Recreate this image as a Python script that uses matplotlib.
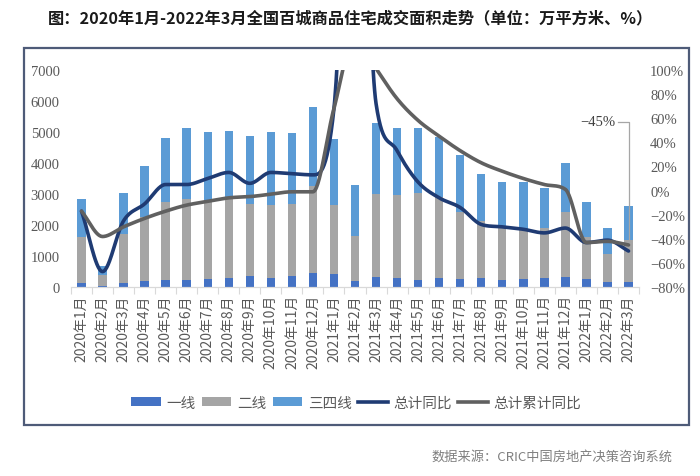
import numpy as np
import matplotlib
matplotlib.use("Agg")
import matplotlib.pyplot as plt
from matplotlib.patches import Rectangle
from matplotlib.lines import Line2D
from matplotlib.ticker import FuncFormatter, FixedLocator

plt.rcParams['font.family'] = ['Noto Sans CJK SC', 'DejaVu Sans']

# -----------------------------
# Data
# -----------------------------
months = ["2020年1月", "2020年2月", "2020年3月", "2020年4月", "2020年5月", "2020年6月",
          "2020年7月", "2020年8月", "2020年9月", "2020年10月", "2020年11月", "2020年12月",
          "2021年1月", "2021年2月", "2021年3月", "2021年4月", "2021年5月", "2021年6月",
          "2021年7月", "2021年8月", "2021年9月", "2021年10月", "2021年11月", "2021年12月",
          "2022年1月", "2022年2月", "2022年3月"]

tier1 = [130, 30, 140, 190, 250, 250, 270, 310, 350, 310, 350, 460, 430, 190,
         340, 290, 250, 310, 270, 290, 250, 270, 290, 330, 270, 160, 180]
tier2 = [1480, 350, 1575, 2060, 2480, 2590, 2530, 2570, 2330, 2340, 2320, 2790, 2220, 1470,
         2660, 2680, 2780, 2580, 2140, 1850, 1730, 1610, 1610, 2100, 1340, 910, 1340]
tier34 = [1230, 320, 1305, 1660, 2060, 2270, 2200, 2140, 2180, 2330, 2290, 2540, 2120, 1630,
          2280, 2150, 2090, 1940, 1840, 1490, 1420, 1520, 1280, 1570, 1120, 840, 1110]

# percent
yoy = [-17, -67, -25, -11, 5, 5, 10, 15, 6, 15, 14, 13, 68, 370,
       72, 33, 7, -6, -14, -28, -30, -32, -35, -31, -43, -41, -50]
cum_yoy = [-17, -38, -30, -23, -17, -12, -9, -6, -5, -3, -1, -1, 68, 128,
           101, 76, 58, 45, 33, 23, 16, 10, 5, 1, -43, -42, -45]

# colours
c_t1 = "#4472C4"
c_t2 = "#A5A5A5"
c_t34 = "#5B9BD5"
c_yoy = "#1F3B73"
c_cum = "#606060"
txt = "#595959"

serif = "Liberation Serif"


def smooth(vals, n=30):
    # cubic hermite through the points (catmull-rom tangents, capped so
    # segments don't overshoot much) - close to excel's smoothed line
    p = np.asarray(vals, dtype=float)
    k = len(p)
    m = np.zeros(k)
    m[0] = p[1] - p[0]
    m[-1] = p[-1] - p[-2]
    m[1:-1] = (p[2:] - p[:-2]) / 2
    for i in range(k - 1):
        d = p[i + 1] - p[i]
        if d == 0:
            m[i] = m[i + 1] = 0
            continue
        if m[i] / d < 0:
            m[i] = 0
        if m[i + 1] / d < 0:
            m[i + 1] = 0
        if m[i] / d > 3:
            m[i] = 3 * d
        if m[i + 1] / d > 3:
            m[i + 1] = 3 * d
    xs, ys = [], []
    t = np.linspace(0, 1, n, endpoint=False)
    h00 = 2 * t**3 - 3 * t**2 + 1
    h10 = t**3 - 2 * t**2 + t
    h01 = -2 * t**3 + 3 * t**2
    h11 = t**3 - t**2
    for i in range(k - 1):
        ys.append(h00 * p[i] + h10 * m[i] + h01 * p[i + 1] + h11 * m[i + 1])
        xs.append(i + t)
    xs.append([k - 1])
    ys.append([p[-1]])
    return np.concatenate(xs), np.concatenate(ys)


# -----------------------------
# Figure
# -----------------------------
fig = plt.figure(figsize=(7, 4.77), dpi=100)
ax = fig.add_axes([0.1014, 0.3956, 0.8115, 0.4562])
ax2 = ax.twinx()

x = np.arange(len(months))
w = 0.4
b1 = ax.bar(x, tier1, w, color=c_t1, zorder=2)
b2 = ax.bar(x, tier2, w, bottom=tier1, color=c_t2, zorder=2)
bottom3 = np.array(tier1) + np.array(tier2)
b3 = ax.bar(x, tier34, w, bottom=bottom3, color=c_t34, zorder=2)

ax.set_xlim(-0.5, len(months) - 0.5)
ax.set_ylim(0, 7000)
ax.set_yticks(range(0, 7001, 1000))

sx, sy = smooth(yoy)
ax2.plot(sx, sy, color=c_yoy, lw=2.6, solid_capstyle='round')
sx, sy = smooth(cum_yoy)
ax2.plot(sx, sy, color=c_cum, lw=2.6, solid_capstyle='round')
ax2.set_ylim(-80, 100)
ax2.set_yticks(range(-80, 101, 20))
ax2.yaxis.set_major_formatter(FuncFormatter(lambda v, p: f"{int(v)}%".replace("-", "\u2212")))

# spines / ticks
for a in (ax, ax2):
    for s in ("left", "right", "top"):
        a.spines[s].set_visible(False)
    a.spines["bottom"].set_color("#D9D9D9")
    a.tick_params(axis="y", length=0, pad=8, labelsize=10.5, labelcolor=txt)
for lab in ax.get_yticklabels() + ax2.get_yticklabels():
    lab.set_fontfamily(serif)

ax.set_xticks(x)
ax.set_xticklabels(months, rotation=90, fontsize=10, color=txt)
ax.tick_params(axis="x", which="major", length=0, pad=5)
ax.xaxis.set_minor_locator(FixedLocator(np.arange(-0.5, len(months), 1)))
ax.tick_params(axis="x", which="minor", length=5, color="#D9D9D9", width=0.8)

# annotation for last cumulative value
ax2.text(len(months) - 1.6, 57, "\u221245%", fontsize=10.5, family=serif,
         color="#404040", ha="right", va="center")
ax2.plot([len(months) - 1.5, len(months) - 1, len(months) - 1],
         [57, 57, cum_yoy[-1] + 4], color="#A6A6A6", lw=0.9)

# -----------------------------
# Legend, title, frame
# -----------------------------
handles = [b1, b2, b3,
           Line2D([], [], color=c_yoy, lw=2.6),
           Line2D([], [], color=c_cum, lw=2.6)]
labels = ["一线", "二线", "三四线", "总计同比", "总计累计同比"]
fig.legend(handles, labels, loc="center", bbox_to_anchor=(0.509, 0.153), ncol=5,
           frameon=False, fontsize=10.5, labelcolor=txt, handlelength=2.0,
           handleheight=0.55, handletextpad=0.4, columnspacing=0.45)

fig.text(0.5, 0.962, "图：2020年1月-2022年3月全国百城商品住宅成交面积走势（单位：万平方米、%）",
         ha="center", va="center", fontsize=11.7, fontweight="bold", color="#1A1A1A")

fig.text(0.96, 0.042, "数据来源：CRIC中国房地产决策咨询系统", ha="right", va="center",
         fontsize=9.5, color="#808080")

fig.patches.append(Rectangle((0.0343, 0.1069), 0.95, 0.7904, transform=fig.transFigure,
                             fill=False, edgecolor="#4E5B78", lw=1.6))

fig.savefig("out.png", dpi=100)
